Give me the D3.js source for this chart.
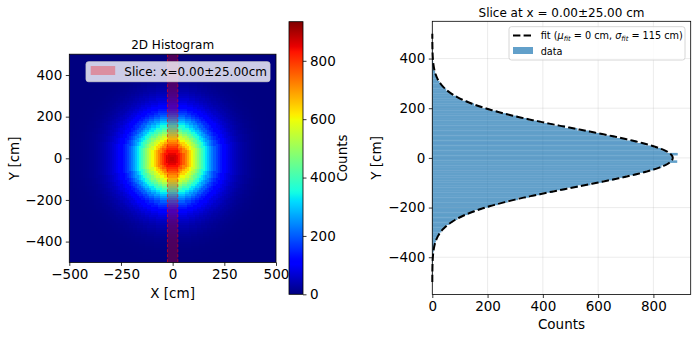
<!DOCTYPE html>
<html>
<head>
<meta charset="utf-8">
<script src="https://cdn.jsdelivr.net/npm/d3@7"></script>
<style>
  body { margin: 0; background: #fff; }
  text { font-family: "DejaVu Sans", sans-serif; fill: #000; }
</style>
</head>
<body>
<svg id="chart" width="698" height="340"></svg>
<script>
const radialStep = 10
const radialCounts = [900, 895, 880, 860, 830, 795, 760, 720, 680, 640,
  600, 560, 520, 480, 440, 400, 362, 326, 292, 260,
  230, 202, 176, 154, 134, 118, 103, 90, 78, 68,
  58, 50, 43, 37, 31, 26, 22, 18, 15, 12,
  10, 8, 6, 5, 4, 3, 2, 2, 1, 1, 0]
const histBinWidth = 10
const histRange = [-500, 500]
const countsMax = 934

// slice x = 0 +- 25 cm
const sliceCenter = 0
const sliceHalf = 25

// 1D slice histogram, y bins of 10 cm from -500 to 500
const sliceBinStart = -500
const sliceBinWidth = 10
const sliceCounts = [0, 0, 0, 1, 0, 1, 1, 1, 2, 2,
  3, 3, 5, 6, 8, 10, 13, 16, 20, 26,
  33, 41, 50, 62, 75, 91, 108, 129, 152, 178,
  207, 238, 273, 310, 350, 392, 436, 481, 526, 572,
  617, 660, 701, 739, 773, 803, 829, 848, 886, 870,
  871, 888, 847, 828, 802, 772, 738, 700, 659, 616,
  571, 525, 480, 435, 391, 349, 309, 272, 237, 206,
  177, 151, 128, 107, 90, 74, 61, 50, 40, 32,
  26, 20, 16, 12, 10, 7, 6, 4, 3, 2,
  2, 1, 1, 1, 0, 0, 0, 0, 0, 0]

// gaussian fit parameters
const fitMu = 0
const fitSigma = 115
const fitAmp = 870

const heatXTicks = [-500, -250, 0, 250, 500]
const heatYTicks = [-400, -200, 0, 200, 400]
const cbarTicks = [0, 200, 400, 600, 800]
const sliceXTicks = [0, 200, 400, 600, 800]
const sliceYTicks = [-400, -200, 0, 200, 400]

const svg = d3.select('#chart')

// matplotlib "jet"
const jetR = d3.scaleLinear().domain([0, 0.35, 0.66, 0.89, 1]).range([0, 0, 1, 1, 0.5]).clamp(true)
const jetG = d3.scaleLinear().domain([0, 0.125, 0.375, 0.64, 0.91, 1]).range([0, 0, 1, 1, 0, 0]).clamp(true)
const jetB = d3.scaleLinear().domain([0, 0.11, 0.34, 0.65, 1]).range([0.5, 1, 1, 0, 0]).clamp(true)
const jet = t => d3.rgb(255 * jetR(t), 255 * jetG(t), 255 * jetB(t)).toString()
const color = v => jet(v / countsMax)

const tickFont = 13.5

function styleAxis(g) {
  g.selectAll('text').style('font-size', tickFont + 'px')
  g.selectAll('path.domain').remove()
  g.selectAll('line').attr('stroke', '#000').attr('stroke-width', 0.8)
}

// ---------------- left: 2D histogram ----------------
const hx = d3.scaleLinear().domain(histRange).range([69.3, 276])
const hy = d3.scaleLinear().domain(histRange).range([262.4, 54.2])

const cells = []
const nBins = (histRange[1] - histRange[0]) / histBinWidth
for (let i = 0; i < nBins; i++) {
  for (let j = 0; j < nBins; j++) {
    const x0 = histRange[0] + i * histBinWidth
    const y0 = histRange[0] + j * histBinWidth
    const r = Math.hypot(x0 + histBinWidth / 2, y0 + histBinWidth / 2)
    const k = Math.round(r / radialStep)
    cells.push({ x0, y0, v: k < radialCounts.length ? radialCounts[k] : 0 })
  }
}

// background first so sub-pixel seams don't show white
svg.append('rect')
  .attr('x', hx(histRange[0])).attr('y', hy(histRange[1]))
  .attr('width', hx(histRange[1]) - hx(histRange[0]))
  .attr('height', hy(histRange[0]) - hy(histRange[1]))
  .attr('fill', jet(0))

const heat = svg.append('g').attr('shape-rendering', 'crispEdges')
heat.selectAll('rect')
  .data(cells.filter(d => d.v > 0))
  .join('rect')
  .attr('x', d => Math.floor(hx(d.x0)))
  .attr('y', d => Math.floor(hy(d.y0 + histBinWidth)))
  .attr('width', d => Math.ceil(hx(d.x0 + histBinWidth)) - Math.floor(hx(d.x0)))
  .attr('height', d => Math.ceil(hy(d.y0)) - Math.floor(hy(d.y0 + histBinWidth)))
  .attr('fill', d => color(d.v))

// slice band
svg.append('rect')
  .attr('x', hx(sliceCenter - sliceHalf))
  .attr('y', hy(histRange[1]))
  .attr('width', hx(sliceCenter + sliceHalf) - hx(sliceCenter - sliceHalf))
  .attr('height', hy(histRange[0]) - hy(histRange[1]))
  .attr('fill', 'red')
  .attr('fill-opacity', 0.3)
svg.selectAll('line.slice-edge')
  .data([sliceCenter - sliceHalf, sliceCenter + sliceHalf])
  .join('line')
  .attr('class', 'slice-edge')
  .attr('x1', d => hx(d)).attr('x2', d => hx(d))
  .attr('y1', hy(histRange[1])).attr('y2', hy(histRange[0]))
  .attr('stroke', 'red')
  .attr('stroke-opacity', 0.6)
  .attr('stroke-width', 1)
  .attr('stroke-dasharray', '3,2')

svg.append('rect')
  .attr('x', hx(histRange[0])).attr('y', hy(histRange[1]))
  .attr('width', hx(histRange[1]) - hx(histRange[0]))
  .attr('height', hy(histRange[0]) - hy(histRange[1]))
  .attr('fill', 'none').attr('stroke', '#000').attr('stroke-width', 0.8)

svg.append('g')
  .attr('transform', `translate(0,${hy(histRange[0])})`)
  .call(d3.axisBottom(hx).tickValues(heatXTicks).tickSize(3.5).tickPadding(3.5))
  .call(styleAxis)
svg.append('g')
  .attr('transform', `translate(${hx(histRange[0])},0)`)
  .call(d3.axisLeft(hy).tickValues(heatYTicks).tickSize(3.5).tickPadding(3.5))
  .call(styleAxis)

svg.append('text')
  .attr('x', (hx(-500) + hx(500)) / 2).attr('y', 49)
  .attr('text-anchor', 'middle').style('font-size', '12px')
  .text('2D Histogram')
svg.append('text')
  .attr('x', (hx(-500) + hx(500)) / 2).attr('y', 298)
  .attr('text-anchor', 'middle').style('font-size', '13.5px')
  .text('X [cm]')
svg.append('text')
  .attr('transform', `translate(19,${hy(0)}) rotate(-90)`)
  .attr('text-anchor', 'middle').style('font-size', '13.5px')
  .text('Y [cm]')

// legend (left)
const legL = svg.append('g')
legL.append('rect')
  .attr('x', 86).attr('y', 61.7).attr('width', 184).attr('height', 20)
  .attr('rx', 2.5)
  .attr('fill', '#fff').attr('fill-opacity', 0.8)
  .attr('stroke', '#ccc').attr('stroke-width', 0.8)
legL.append('rect')
  .attr('x', 90.7).attr('y', 66).attr('width', 24.5).attr('height', 9)
  .attr('fill', 'red').attr('fill-opacity', 0.3)
legL.append('text')
  .attr('x', 124.3).attr('y', 76)
  .style('font-size', '12px')
  .text('Slice: x=0.00±25.00cm')

// colorbar
const cy = d3.scaleLinear().domain([0, countsMax]).range([294.3, 21.7])
const defs = svg.append('defs')
const grad = defs.append('linearGradient')
  .attr('id', 'cbar-grad')
  .attr('x1', 0).attr('y1', 1).attr('x2', 0).attr('y2', 0)
grad.selectAll('stop')
  .data(d3.range(0, 1.0001, 0.01))
  .join('stop')
  .attr('offset', d => d)
  .attr('stop-color', d => jet(d))
svg.append('rect')
  .attr('x', 289).attr('y', cy(countsMax))
  .attr('width', 14).attr('height', cy(0) - cy(countsMax))
  .attr('fill', 'url(#cbar-grad)')
  .attr('stroke', '#000').attr('stroke-width', 0.8)
svg.append('g')
  .attr('transform', 'translate(303,0)')
  .call(d3.axisRight(cy).tickValues(cbarTicks).tickSize(3.5).tickPadding(3.5))
  .call(styleAxis)
svg.append('text')
  .attr('transform', `translate(347,${(cy(0) + cy(countsMax)) / 2}) rotate(-90)`)
  .attr('text-anchor', 'middle').style('font-size', '13.5px')
  .text('Counts')

// ---------------- right: slice histogram ----------------
const sx = d3.scaleLinear().domain([0, 935]).range([432.3, 690.7])
const sy = d3.scaleLinear().domain([-550, 550]).range([294.5, 21.3])

const grid = svg.append('g')
grid.selectAll('line.gx')
  .data(sliceXTicks)
  .join('line')
  .attr('x1', d => sx(d)).attr('x2', d => sx(d))
  .attr('y1', sy(-550)).attr('y2', sy(550))
  .attr('stroke', '#b0b0b0').attr('stroke-opacity', 0.3).attr('stroke-width', 0.8)
grid.selectAll('line.gy')
  .data(sliceYTicks)
  .join('line')
  .attr('x1', sx(0)).attr('x2', sx(935))
  .attr('y1', d => sy(d)).attr('y2', d => sy(d))
  .attr('stroke', '#b0b0b0').attr('stroke-opacity', 0.3).attr('stroke-width', 0.8)

const bars = sliceCounts.map((c, i) => ({ y0: sliceBinStart + i * sliceBinWidth, c }))
svg.append('g')
  .selectAll('rect')
  .data(bars)
  .join('rect')
  .attr('x', sx(0))
  .attr('y', d => sy(d.y0 + sliceBinWidth))
  .attr('width', d => sx(d.c) - sx(0))
  .attr('height', d => sy(d.y0) - sy(d.y0 + sliceBinWidth))
  .attr('fill', '#1f77b4')
  .attr('fill-opacity', 0.7)
  .attr('stroke', '#1f77b4')
  .attr('stroke-opacity', 0.15)
  .attr('stroke-width', 0.3)

// fit curve from its parameters
const fitYs = d3.range(-500, 500.1, 2)
const fitLine = d3.line()
  .x(y => sx(fitAmp * Math.exp(-0.5 * ((y - fitMu) / fitSigma) ** 2)))
  .y(y => sy(y))
svg.append('path')
  .datum(fitYs)
  .attr('d', fitLine)
  .attr('fill', 'none')
  .attr('stroke', '#000')
  .attr('stroke-width', 2)
  .attr('stroke-dasharray', '7.4,3.2')

svg.append('rect')
  .attr('x', sx(0)).attr('y', sy(550))
  .attr('width', sx(935) - sx(0)).attr('height', sy(-550) - sy(550))
  .attr('fill', 'none').attr('stroke', '#000').attr('stroke-width', 0.8)

svg.append('g')
  .attr('transform', `translate(0,${sy(-550)})`)
  .call(d3.axisBottom(sx).tickValues(sliceXTicks).tickSize(3.5).tickPadding(3.5))
  .call(styleAxis)
svg.append('g')
  .attr('transform', `translate(${sx(0)},0)`)
  .call(d3.axisLeft(sy).tickValues(sliceYTicks).tickSize(3.5).tickPadding(3.5))
  .call(styleAxis)

svg.append('text')
  .attr('x', (sx(0) + sx(935)) / 2).attr('y', 17)
  .attr('text-anchor', 'middle').style('font-size', '12px')
  .text('Slice at x = 0.00±25.00 cm')
svg.append('text')
  .attr('x', (sx(0) + sx(935)) / 2).attr('y', 329)
  .attr('text-anchor', 'middle').style('font-size', '13.5px')
  .text('Counts')
svg.append('text')
  .attr('transform', `translate(381,${sy(0)}) rotate(-90)`)
  .attr('text-anchor', 'middle').style('font-size', '13.5px')
  .text('Y [cm]')

// legend (right)
const legR = svg.append('g')
legR.append('rect')
  .attr('x', 509).attr('y', 26.7).attr('width', 176).attr('height', 33.3)
  .attr('rx', 2.5)
  .attr('fill', '#fff').attr('fill-opacity', 0.8)
  .attr('stroke', '#ccc').attr('stroke-width', 0.8)
legR.append('line')
  .attr('x1', 513).attr('x2', 533).attr('y1', 35.5).attr('y2', 35.5)
  .attr('stroke', '#000').attr('stroke-width', 2).attr('stroke-dasharray', '7.4,3.2')
legR.append('rect')
  .attr('x', 513).attr('y', 47).attr('width', 20).attr('height', 7)
  .attr('fill', '#1f77b4').attr('fill-opacity', 0.7)

const fitText = legR.append('text')
  .attr('x', 540.7).attr('y', 39)
  .style('font-size', '9.7px')
fitText.append('tspan').text('fit (')
fitText.append('tspan').style('font-style', 'italic').text('μ')
fitText.append('tspan').attr('dy', 1.8).style('font-size', '6.8px').style('font-style', 'italic').text('fit')
fitText.append('tspan').attr('dy', -1.8).text(' = 0 cm, ')
fitText.append('tspan').style('font-style', 'italic').text('σ')
fitText.append('tspan').attr('dy', 1.8).style('font-size', '6.8px').style('font-style', 'italic').text('fit')
fitText.append('tspan').attr('dy', -1.8).text(' = 115 cm)')

legR.append('text')
  .attr('x', 540.7).attr('y', 54.5)
  .style('font-size', '9.7px')
  .text('data')
</script>
</body>
</html>
